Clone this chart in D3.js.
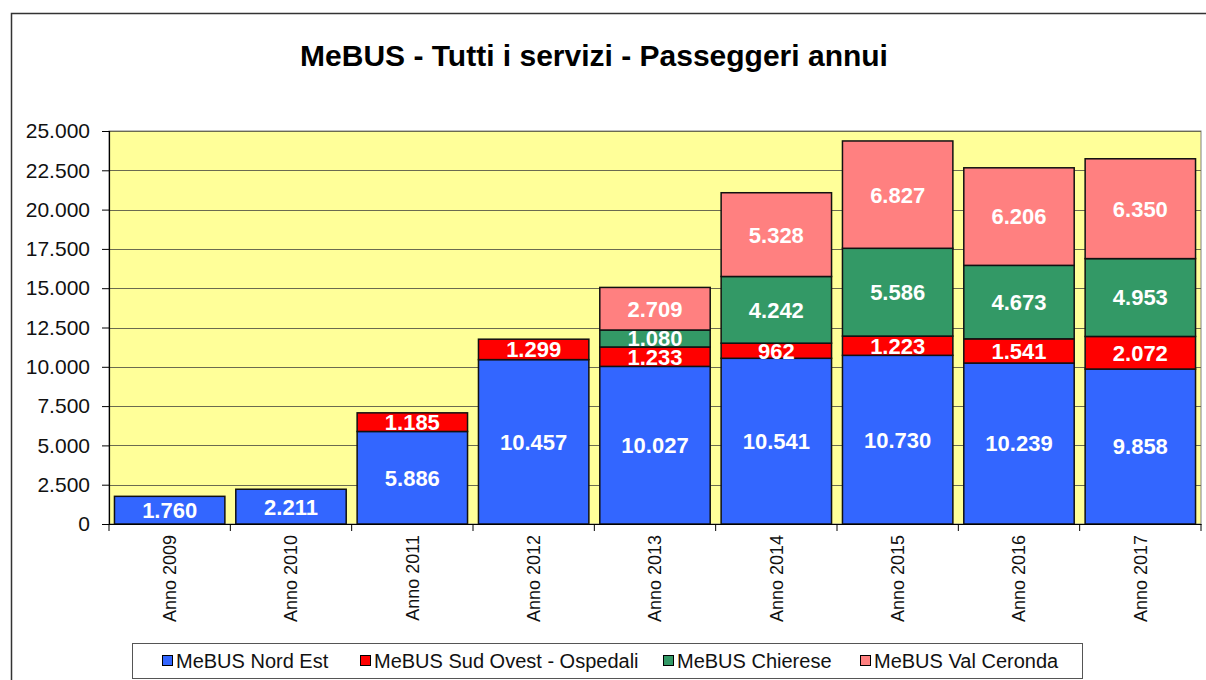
<!DOCTYPE html>
<html>
<head>
<meta charset="utf-8">
<script src="https://cdn.jsdelivr.net/npm/d3@7"></script>
<style>
  body { margin: 0; background: #fff; }
  text { font-family: "Liberation Sans", Arial, sans-serif; }
</style>
</head>
<body>
<div id="chart"></div>
<script>
// data
var years = ["Anno 2009", "Anno 2010", "Anno 2011", "Anno 2012", "Anno 2013", "Anno 2014", "Anno 2015", "Anno 2016", "Anno 2017"];
var nordEst = [1760, 2211, 5886, 10457, 10027, 10541, 10730, 10239, 9858];
var sudOvest = [0, 0, 1185, 1299, 1233, 962, 1223, 1541, 2072];
var chierese = [0, 0, 0, 0, 1080, 4242, 5586, 4673, 4953];
var valCeronda = [0, 0, 0, 0, 2709, 5328, 6827, 6206, 6350];
var seriesNames = ["MeBUS Nord Est", "MeBUS Sud Ovest - Ospedali", "MeBUS Chierese", "MeBUS Val Ceronda"];
var seriesColors = ["#3366FF", "#FF0000", "#339966", "#FF8080"];
var yTicks = [0, 2500, 5000, 7500, 10000, 12500, 15000, 17500, 20000, 22500, 25000];

var W = 1206, H = 680;
var plot = {left: 109, right: 1201, top: 131, bottom: 524};

var svg = d3.select("#chart").append("svg")
    .attr("width", W)
    .attr("height", H);

// outer frame (only top and left visible)
svg.append("path")
    .attr("d", "M11.5,680 L11.5,13.5 L1206,13.5")
    .attr("fill", "none")
    .attr("stroke", "#333")
    .attr("stroke-width", 1.5);

svg.append("text")
    .attr("x", 594)
    .attr("y", 66)
    .attr("text-anchor", "middle")
    .style("font-size", "30px")
    .style("font-weight", "bold")
    .text("MeBUS - Tutti i servizi - Passeggeri annui");

var x = d3.scaleBand()
    .domain(years)
    .range([plot.left, plot.right])
    .paddingInner(0.09)
    .paddingOuter(0.045);

var y = d3.scaleLinear()
    .domain([0, 25000])
    .range([plot.bottom, plot.top]);

svg.append("rect")
    .attr("x", plot.left)
    .attr("y", plot.top)
    .attr("width", plot.right - plot.left)
    .attr("height", plot.bottom - plot.top)
    .attr("fill", "#FFFF99")
    .attr("stroke", "#808080")
    .attr("stroke-width", 1);

// gridlines
svg.append("g").selectAll("line")
    .data(yTicks.slice(1))
    .enter().append("line")
    .attr("x1", plot.left)
    .attr("x2", plot.right)
    .attr("y1", function(d) { return Math.round(y(d)) + 0.5; })
    .attr("y2", function(d) { return Math.round(y(d)) + 0.5; })
    .attr("stroke", "#6b6b50")
    .attr("stroke-width", 1);

var fmt = d3.formatLocale({decimal: ",", thousands: ".", grouping: [3], currency: ["", ""]}).format(",d");

// stacked bars
var rows = years.map(function(yr, i) {
    return {year: yr, s0: nordEst[i], s1: sudOvest[i], s2: chierese[i], s3: valCeronda[i]};
});
var stack = d3.stack().keys(["s0", "s1", "s2", "s3"])(rows);

var layers = svg.append("g").selectAll("g")
    .data(stack)
    .enter().append("g")
    .attr("fill", function(d, i) { return seriesColors[i]; });

layers.selectAll("rect")
    .data(function(d) { return d.filter(function(p) { return p[1] - p[0] > 0; }); })
    .enter().append("rect")
    .attr("x", function(d) { return x(d.data.year); })
    .attr("y", function(d) { return y(d[1]); })
    .attr("width", x.bandwidth())
    .attr("height", function(d) { return y(d[0]) - y(d[1]); })
    .attr("stroke", "#111")
    .attr("stroke-width", 1.5);

layers.selectAll("text")
    .data(function(d) { return d.filter(function(p) { return p[1] - p[0] > 0; }); })
    .enter().append("text")
    .attr("x", function(d) { return x(d.data.year) + x.bandwidth() / 2; })
    .attr("y", function(d) { return (y(d[0]) + y(d[1])) / 2; })
    .attr("dy", "0.36em")
    .attr("text-anchor", "middle")
    .attr("fill", "#fff")
    .style("font-size", "22px")
    .style("font-weight", "bold")
    .text(function(d) { return fmt(d[1] - d[0]); });

// y axis
var yAxis = svg.append("g")
    .attr("transform", "translate(" + plot.left + ",0)")
    .call(d3.axisLeft(y).tickValues(yTicks).tickSize(7).tickPadding(12).tickFormat(fmt));
yAxis.select(".domain").attr("stroke", "#000").attr("stroke-width", 1.2);
yAxis.selectAll(".tick line").attr("stroke", "#000");
yAxis.selectAll("text")
    .style("font-size", "21px")
    .style("font-family", "'Liberation Sans', Arial, sans-serif")
    .attr("fill", "#111");

// x axis
var xAxis = svg.append("g")
    .attr("transform", "translate(0," + plot.bottom + ")")
    .call(d3.axisBottom(x).tickSize(0).tickSizeOuter(0));
xAxis.select(".domain").attr("stroke", "#000").attr("stroke-width", 1.2);
xAxis.selectAll("text")
    .style("font-size", "18px")
    .style("font-family", "'Liberation Sans', Arial, sans-serif")
    .attr("fill", "#111")
    .attr("transform", "rotate(-90)")
    .attr("text-anchor", "end")
    .attr("x", -11)
    .attr("y", 0)
    .attr("dy", "0.36em");

// tick marks between categories
svg.append("g").selectAll("line")
    .data(d3.range(years.length + 1))
    .enter().append("line")
    .attr("x1", function(i) { return plot.left + i * (plot.right - plot.left) / years.length; })
    .attr("x2", function(i) { return plot.left + i * (plot.right - plot.left) / years.length; })
    .attr("y1", plot.bottom)
    .attr("y2", plot.bottom + 7)
    .attr("stroke", "#000");

// legend
var legend = svg.append("g");
legend.append("rect")
    .attr("x", 132.5)
    .attr("y", 643.5)
    .attr("width", 950)
    .attr("height", 35)
    .attr("fill", "#fff")
    .attr("stroke", "#555");

var legendX = [162, 360, 663, 860];
var items = legend.selectAll("g.item")
    .data(seriesNames)
    .enter().append("g")
    .attr("class", "item")
    .attr("transform", function(d, i) { return "translate(" + legendX[i] + ",661)"; });
items.append("rect")
    .attr("x", 0.5)
    .attr("y", -5.5)
    .attr("width", 10)
    .attr("height", 10)
    .attr("fill", function(d, i) { return seriesColors[i]; })
    .attr("stroke", "#000");
items.append("text")
    .attr("x", 14)
    .attr("dy", "0.35em")
    .style("font-size", "20px")
    .attr("fill", "#111")
    .text(function(d) { return d; });
</script>
</body>
</html>
